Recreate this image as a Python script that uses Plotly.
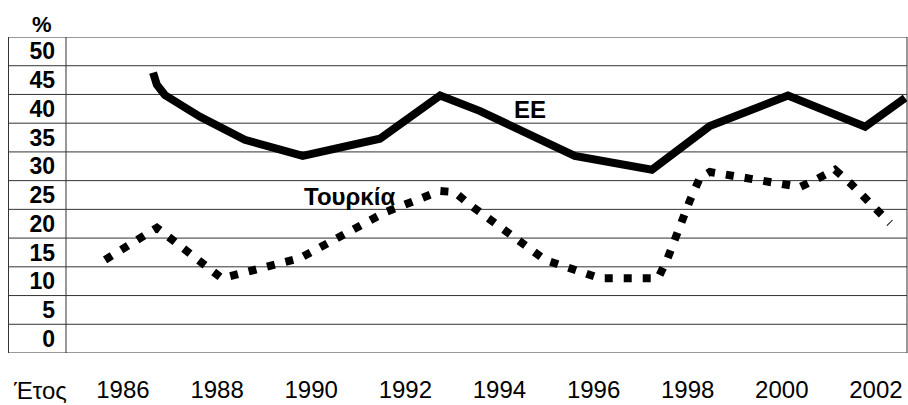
import plotly.graph_objects as go

# ---- data ----
ee_year = [1986.64, 1986.72, 1986.89, 1987.17, 1987.64, 1988.59, 1989.12, 1989.82,
           1991.46, 1992.74, 1993.59, 1995.60, 1997.24, 1998.47, 2000.13, 2001.77, 2002.62]
ee_value = [46.3, 44.2, 42.4, 40.9, 38.6, 34.6, 33.5, 31.8,
            34.8, 42.3, 39.6, 31.8, 29.4, 37.0, 42.3, 36.9, 41.9]

tr_year = [1985.62, 1986.72, 1988.10, 1989.76, 1991.57, 1992.74, 1993.05, 1993.37,
           1994.97, 1996.14, 1997.37, 1997.56, 1998.05, 1998.26, 1998.47, 2000.39,
           2000.70, 2001.13, 2001.45, 2002.30]
tr_value = [13.7, 19.3, 10.5, 14.0, 22.0, 25.7, 25.5, 23.3,
            13.7, 10.5, 10.5, 13.7, 24.1, 28.0, 29.0, 26.4,
            27.6, 29.4, 27.1, 20.1]

y_ticks = [0, 5, 10, 15, 20, 25, 30, 35, 40, 45, 50]
x_ticks = [1986, 1988, 1990, 1992, 1994, 1996, 1998, 2000, 2002]
x_labels = [str(v) for v in x_ticks]

series_names = ["ΕΕ", "Τουρκία"]
unit_label = "%"
x_title = "Έτος"

# ---- layout constants ----
W, H = 908, 405
ML, MR, MT, MB = 66, 1, 37, 52
plot_w = W - ML - MR
plot_h = H - MT - MB
left_col = (8.5 - ML) / plot_w  # paper x of the outer table border
y_lo, y_hi = -2.5, 52.5
line_col = "#333333"
FONT = "Liberation Sans, Arial"

fig = go.Figure()

fig.add_trace(go.Scatter(x=ee_year, y=ee_value, mode="lines", name=series_names[0],
                         line=dict(color="black", width=8), showlegend=False,
                         hoverinfo="skip"))
fig.add_trace(go.Scatter(x=tr_year, y=tr_value, mode="lines", name=series_names[1],
                         line=dict(color="black", width=8, dash="8px,11px"),
                         showlegend=False, hoverinfo="skip"))

shapes = []
# horizontal table lines (between value cells)
k = y_lo
while k <= y_hi + 1e-9:
    shapes.append(dict(type="line", xref="paper", yref="y", x0=left_col, x1=1,
                       y0=k, y1=k, line=dict(color=line_col, width=1), layer="below"))
    k += 5
# vertical table lines
for xv in (left_col, 0, 1):
    shapes.append(dict(type="line", xref="paper", yref="y", x0=xv, x1=xv,
                       y0=y_lo, y1=y_hi, line=dict(color=line_col, width=1), layer="below"))

annotations = [
    dict(text=unit_label, xref="paper", yref="paper", x=(42 - ML) / plot_w,
         y=1 + (MT - 24) / plot_h, showarrow=False, xanchor="center", yanchor="middle",
         font=dict(family=FONT, size=22, color="black", weight="bold")),
    dict(text=x_title, xref="paper", yref="paper", x=(40 - ML) / plot_w,
         y=-(390 - MT - plot_h) / plot_h, showarrow=False, xanchor="center", yanchor="middle",
         font=dict(family=FONT, size=24, color="black")),
    dict(text=series_names[0], x=1994.65, y=39.8, showarrow=False,
         font=dict(family=FONT, size=24, color="black", weight="bold")),
    dict(text=series_names[1], x=1990.82, y=24.8, showarrow=False,
         font=dict(family=FONT, size=24, color="black", weight="bold")),
]

fig.update_layout(
    width=W, height=H,
    margin=dict(l=ML, r=MR, t=MT, b=MB, pad=0, autoexpand=False),
    paper_bgcolor="white", plot_bgcolor="white",
    shapes=shapes, annotations=annotations,
    xaxis=dict(range=[1984.79, 2002.66], tickvals=x_ticks, ticktext=x_labels,
               showgrid=False, zeroline=False, showline=False, ticks="",
               ticklabelstandoff=20, automargin=False,
               tickfont=dict(family=FONT, size=24, color="black")),
    yaxis=dict(range=[y_lo, y_hi], tickvals=y_ticks, showgrid=False, zeroline=False,
               showline=False, ticks="", ticklabelstandoff=10, automargin=False,
               tickfont=dict(family=FONT, size=23, color="black", weight="bold")),
)

fig.write_html("out.html", config={"displayModeBar": False},
               post_script="document.body.style.margin='0';document.body.style.overflow='hidden';")
